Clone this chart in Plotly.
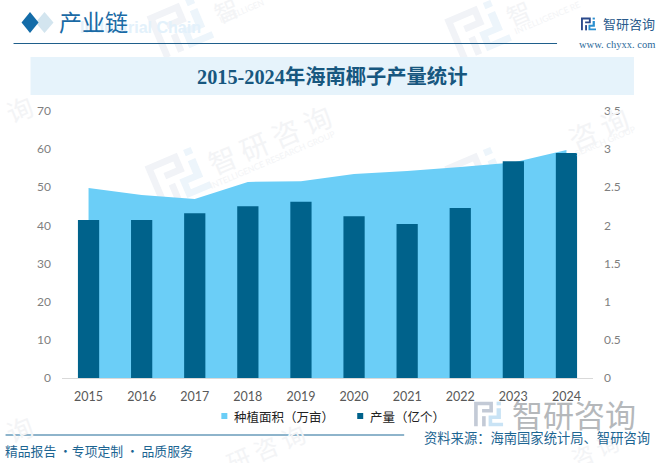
import math

import plotly.graph_objects as go

WIDTH = 657
HEIGHT = 463
# plot area in page pixels
LEFT, RIGHT, TOP, BOTTOM = 61.5, 593, 111, 378

years = [2015, 2016, 2017, 2018, 2019, 2020, 2021, 2022, 2023, 2024]
area_values = [49.8, 48.0, 46.9, 51.4, 51.6, 53.5, 54.3, 55.3, 56.5, 59.8]
output_values = [2.07, 2.07, 2.16, 2.25, 2.31, 2.12, 2.02, 2.23, 2.84, 2.95]

left_ticks = [0, 10, 20, 30, 40, 50, 60, 70]
right_ticks = [0, 0.5, 1, 1.5, 2, 2.5, 3, 3.5]
right_labels = ["0", "0.5", "1", "1.5", "2", "2.5", "3", "3.5"]

area_name = "种植面积（万亩）"
output_name = "产量（亿个）"
chart_title = "2015-2024年海南椰子产量统计"
source_text = "资料来源：海南国家统计局、智研咨询"
footer_text = "精品报告 ·专项定制 · 品质服务"

# the repeated background watermark: icon centres, then the pieces of text that show
watermark_icons = [(180, 27), (478, 30), (178, 177), (478, 177)]
watermark_words = [
    ("智", 226, 10, 24), ("智", 518, 12, 24), ("智 研 咨 询", 269, 139, 28), ("咨 询", 598, 128, 28),
    ("询", 18, 108, 26), ("询", 18, 428, 26), ("研 咨 询", 265, 447, 24), ("咨 询", 595, 449, 22),
]
watermark_small = [
    ("INTELLIGEN", 242, 11), ("INTELLIGENCE RE", 547, 18),
    ("INTELLIGENCE RESEARCH GROUP", 272, 160), ("SEARCH GROUP", 606, 141),
]

SANS = "Noto Sans CJK SC"
NUM = "Lato, Noto Sans CJK SC"
SERIF = "Liberation Serif, Noto Sans CJK SC"
BLUE = "#1c6592"


def px(x):
    return (x - LEFT) / (RIGHT - LEFT)


def py(y):
    return (BOTTOM - y) / (BOTTOM - TOP)


def poly(points, color, layer="below"):
    path = "M " + " L ".join(f"{px(x):.5f},{py(y):.5f}" for x, y in points) + " Z"
    return dict(type="path", xref="paper", yref="paper", path=path, fillcolor=color,
                line_width=0, layer=layer)


def box(x0, y0, x1, y1, color, layer="below"):
    return dict(type="rect", xref="paper", yref="paper", x0=px(x0), x1=px(x1), y0=py(y0), y1=py(y1),
                fillcolor=color, line_width=0, layer=layer)


def label(x, y, text, size, color, family=SANS, angle=0, anchor="center"):
    return dict(xref="paper", yref="paper", x=px(x), y=py(y), text=text, showarrow=False,
                font=dict(size=size, color=color, family=family), textangle=angle,
                xanchor=anchor, yanchor="middle")


def icon(cx, cy, size, color, accent, angle=0.0, layer="below"):
    """The blocky company mark, drawn from square bars around a centre."""
    ca, sa = math.cos(math.radians(angle)), math.sin(math.radians(angle))
    bars = [
        ([(-1, -.85), (.3, -.85), (.3, -.1), (-.45, -.1), (-.45, -.35), (.05, -.35), (.05, -.6),
          (-.75, -.6), (-.75, .85), (-1, .85)], color),
        ([(-.45, .15), (-.2, .15), (-.2, .85), (-.45, .85)], color),
        ([(.55, -.85), (.85, -.85), (.85, -.6), (.55, -.6)], accent),
        ([(.55, -.4), (.85, -.4), (.85, .35), (.25, .35), (.25, .6), (1, .6), (1, .85), (0, .85),
          (0, .1), (.55, .1)], accent),
    ]
    out = []
    for points, col in bars:
        moved = [(cx + size * (x * ca - y * sa), cy + size * (x * sa + y * ca)) for x, y in points]
        out.append(poly(moved, col, layer))
    return out


shapes = []
annotations = []

# background watermark
for cx, cy in watermark_icons:
    shapes += icon(cx, cy, 27, "#f1f3f7", "#edf5fb", -23)
for text, x, y, size in watermark_words:
    annotations.append(label(x, y, text, size, "#f3f4f6", SANS, -23))
for text, x, y in watermark_small:
    annotations.append(label(x, y, text, 8.5, "#f3f4f6", NUM, -23))

# header
shapes.append(poly([(44, 12), (53, 22.5), (44, 33), (35, 22.5)], "#d3e5ef"))
shapes.append(poly([(29.5, 12), (38, 22.5), (29.5, 33), (21, 22.5)], "#146ca8"))
shapes.append(box(13, 43, 557, 44, "#1f5f8b"))
shapes.append(box(30, 57, 634, 95, "#e6f3fb"))
annotations.append(label(140, 28, "<b>Industrial Chain</b>", 16, "#e3f1fb", "Liberation Sans"))
annotations.append(label(93, 23, "产业链", 23, "#1a6aa5", SERIF))
annotations.append(label(332, 77, f"<b>{chart_title}</b>", 20.3, "#17577f", SERIF))

# top-right logo
shapes += icon(588.5, 24, 7.5, "#2b4a8c", "#2a8fd0", 0, "above")
annotations.append(label(629.5, 23, "智研咨询", 13, "#2a5a8c"))
annotations.append(label(617, 44, "www. chyxx. com", 10.5, "#2a6a9a", "Liberation Serif"))

# footer
shapes.append(box(5, 434.5, 404, 435.5, "#1f6a97"))
shapes += icon(488.5, 414, 14.5, "#c3cad6", "#c9e3f5", 0, "above")
annotations.append(label(574, 414, "智研咨询", 31, "#b5b8bb"))
annotations.append(label(99, 450, footer_text, 12.8, BLUE))
annotations.append(label(537, 437, source_text, 13.3, BLUE))

# legend keys, small squares as in the source
shapes.append(box(221, 413, 227, 419, "#6BCEF7", "above"))
shapes.append(box(357, 413, 363, 419, "#00628B", "above"))
annotations.append(label(232, 416, area_name, 12.5, "#222222", SANS, anchor="left"))
annotations.append(label(368, 416, output_name, 12.5, "#222222", SANS, anchor="left"))

fig = go.Figure()
fig.add_trace(go.Scatter(
    x=years, y=area_values, name=area_name, mode="lines",
    line=dict(width=0, color="#6BCEF7"), fill="tozeroy", fillcolor="#6BCEF7",
))
fig.add_trace(go.Bar(
    x=years, y=output_values, name=output_name, yaxis="y2",
    marker=dict(color="#00628B", line_width=0), width=0.4,
))

fig.update_layout(
    width=WIDTH,
    height=HEIGHT,
    margin=dict(l=LEFT, r=WIDTH - RIGHT, t=TOP, b=HEIGHT - BOTTOM, pad=0),
    paper_bgcolor="white",
    plot_bgcolor="rgba(0,0,0,0)",
    font=dict(family=NUM, size=12, color="#595959"),
    showlegend=False,
    xaxis=dict(
        range=[2014.5, 2024.5], tickmode="array", tickvals=years, ticktext=[str(y) for y in years],
        showgrid=False, zeroline=False, showline=True, linecolor="#d9d9d9", linewidth=1,
        ticks="", tickfont=dict(size=12.5, color="#595959"), ticklabelstandoff=7,
    ),
    yaxis=dict(
        range=[0, 70], tickvals=left_ticks, showgrid=False, zeroline=False, ticks="",
        tickfont=dict(size=12, color="#7f7f7f"), ticklabelstandoff=10,
    ),
    yaxis2=dict(
        range=[0, 3.5], tickvals=right_ticks, ticktext=right_labels, overlaying="y", side="right",
        showgrid=False, zeroline=False, ticks="", tickfont=dict(size=12, color="#7f7f7f"),
        ticklabelstandoff=10,
    ),
    shapes=shapes,
    annotations=annotations,
)

# the page's default body margin would push the figure off its pixel grid
fig.write_html("out.html", config=dict(displayModeBar=False), post_script="document.body.style.margin='0';")
